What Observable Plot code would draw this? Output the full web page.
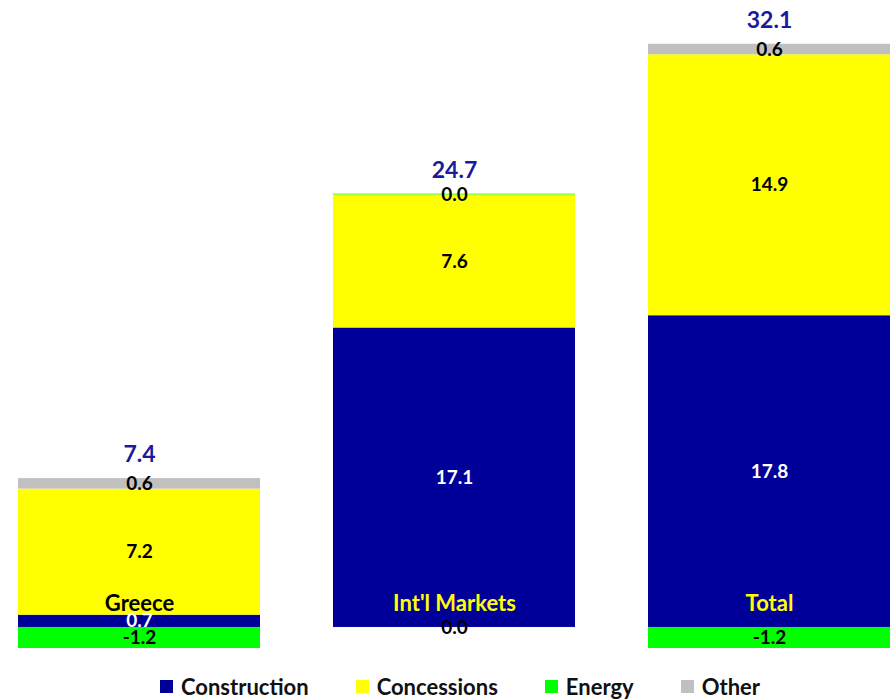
<!DOCTYPE html>
<html>
<head>
<meta charset="utf-8">
<script src="https://cdn.jsdelivr.net/npm/d3@7"></script>
<script src="https://cdn.jsdelivr.net/npm/@observablehq/plot@0.6"></script>
<style>
  html, body { margin: 0; padding: 0; background: #fff; }
  #chart svg { display: block; }
  #legend { display: flex; justify-content: center; align-items: center; gap: 47px; height: 48px; padding-left: 28px;
            font-family: Lato, sans-serif; font-weight: bold; font-size: 22px; color: #111; }
  .item { display: flex; align-items: center; gap: 8px; }
  .sw { width: 13px; height: 13px; display: inline-block; }
</style>
</head>
<body>
<div id="chart"></div>
<div id="legend"></div>
<script>
const categories = ["Greece", "Int'l Markets", "Total"];
const segments = ["Construction", "Concessions", "Energy", "Other"];
const colors = ["#000099", "#FFFF00", "#00FF00", "#C0C0C0"];
const construction = [0.7, 17.1, 17.8];
const concessions = [7.2, 7.6, 14.9];
const energy = [-1.2, 0.04, -1.2];
const other = [0.6, -0.01, 0.6];
const totals = [7.4, 24.7, 32.1];

const series = [construction, concessions, energy, other];
const rows = categories.flatMap((c, i) => segments.map((s, j) => ({category: c, segment: s, value: series[j][i]})));
const posTop = categories.map((c, i) => d3.sum(series, s => Math.max(0, s[i])));
const fmt = v => { const t = v.toFixed(1); return t === "-0.0" ? "0.0" : t; };

const plot = Plot.plot({
  width: 892,
  height: 662,
  marginLeft: 17,
  marginRight: 0,
  marginTop: 0,
  marginBottom: 0,
  style: {fontFamily: "Lato, sans-serif", background: "white"},
  x: {domain: categories, paddingInner: 0.231, paddingOuter: 0, axis: null},
  y: {domain: [-2, 35.8], axis: null},
  color: {domain: segments, range: colors},
  marks: [
    Plot.barY(rows, {x: "category", y: "value", fill: "segment"}),
    Plot.text(rows, Plot.stackY({x: "category", y: "value", text: d => fmt(d.value),
      fill: d => d.segment === "Construction" ? "white" : "black",
      fontSize: 19, fontWeight: "bold"})),
    Plot.text(categories, {x: d => d, y: () => 0, dy: -24, text: d => d,
      fill: d => d === "Greece" ? "black" : "#FFFF00", fontSize: 22, fontWeight: "bold"}),
    Plot.text(categories, {x: d => d, y: (d, i) => posTop[i], dy: -24, text: (d, i) => totals[i].toFixed(1),
      fill: "#1a1a9c", fontSize: 23, fontWeight: "bold"})
  ]
});
document.getElementById("chart").appendChild(plot);

const legend = document.getElementById("legend");
segments.forEach((s, j) => {
  const it = document.createElement("div");
  it.className = "item";
  const sw = document.createElement("span");
  sw.className = "sw";
  sw.style.background = colors[j];
  const lb = document.createElement("span");
  lb.textContent = s;
  it.appendChild(sw); it.appendChild(lb);
  legend.appendChild(it);
});
</script>
</body>
</html>
